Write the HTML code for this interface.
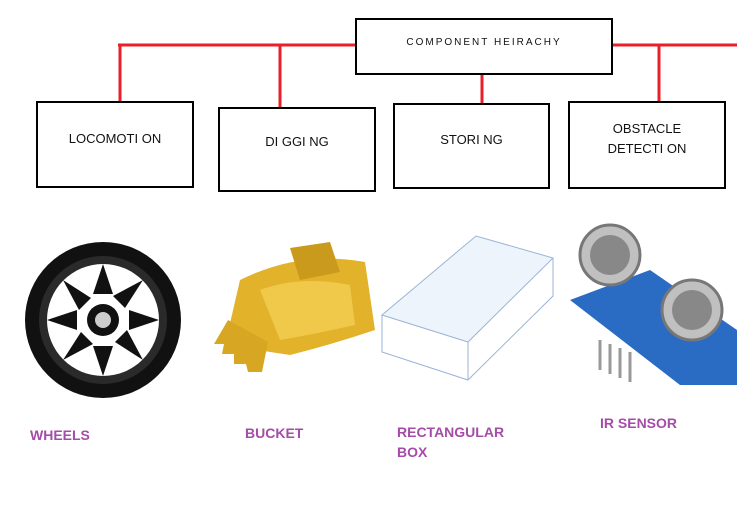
<!DOCTYPE html>
<html><head><meta charset="utf-8"><style>
body{margin:0;width:737px;height:512px;background:#fff;position:relative;overflow:hidden;font-family:"Liberation Sans",sans-serif}
.box{position:absolute;border:2px solid #000;box-sizing:border-box;background:#fff;display:flex;align-items:center;justify-content:center;text-align:center;font-size:13px;color:#111;line-height:20px;padding-bottom:12px}
.lbl{position:absolute;color:#a54ca8;font-weight:bold;font-size:14px;line-height:20px}
svg{position:absolute;left:0;top:0}
</style></head><body>
<svg width="737" height="512">
<g stroke="#e8202a" stroke-width="3" fill="none">
<path d="M118 45H356M612 45H737M120 45V101M280 45V108M482 74V103M659 45V101"/>
</g>
<g>
<circle cx="103" cy="320" r="78" fill="#111"/>
<circle cx="103" cy="320" r="64" fill="#2a2a2a"/>
<circle cx="103" cy="320" r="56" fill="#fff"/>
<g fill="#111">
<circle cx="103" cy="320" r="16"/>
<path d="M103 264l10 30h-20z"/><path d="M103 376l-10-30h20z"/>
<path d="M47 320l30-10v20z"/><path d="M159 320l-30 10v-20z"/>
<path d="M63 280l28 18-12 12z"/><path d="M143 360l-28-18 12-12z"/>
<path d="M143 280l-18 28-12-12z"/><path d="M63 360l18-28 12 12z"/>
</g>
<circle cx="103" cy="320" r="8" fill="#ccc"/>
</g>
<g>
<path d="M240 280 Q300 250 365 262 L375 330 Q330 345 290 355 L225 345 Z" fill="#e2b22a"/>
<path d="M290 248 l40 -6 l10 30 l-40 8z" fill="#c99a1c"/>
<path d="M228 320 l-14 24 h10 l-2 10 h12 l0 10 h12 l2 8 h14 l6 -30z" fill="#d7a623"/>
<path d="M260 290 Q300 275 350 285 L355 325 Q310 335 280 340z" fill="#f0c84a"/>
</g>
<g fill="none" stroke="#9ab4d8" stroke-width="1">
<path d="M382 315 L476 236 L553 258 L468 342 Z" fill="#eef4fb"/>
<path d="M382 315 V352 L468 380 V342"/><path d="M468 380 L553 296 V258"/>
</g>
<g>
<path d="M570 300 L650 270 L737 330 L737 385 L680 385 Z" fill="#2a6cc4"/>
<circle cx="610" cy="255" r="30" fill="#c0c0c0" stroke="#777" stroke-width="3"/>
<circle cx="610" cy="255" r="20" fill="#888"/>
<circle cx="692" cy="310" r="30" fill="#c0c0c0" stroke="#777" stroke-width="3"/>
<circle cx="692" cy="310" r="20" fill="#888"/>
<g stroke="#999" stroke-width="3"><path d="M600 340v30M610 344v30M620 348v30M630 352v30"/></g>
</g>
</svg>
<div class="box" style="left:355px;top:18px;width:258px;height:57px;font-size:10px;letter-spacing:2px;padding-bottom:8px">COMPONENT HEIRACHY</div>
<div class="box" style="left:36px;top:101px;width:158px;height:87px">LOCOMOTI ON</div>
<div class="box" style="left:218px;top:107px;width:158px;height:85px;padding-bottom:16px">DI GGI NG</div>
<div class="box" style="left:393px;top:103px;width:157px;height:86px">STORI NG</div>
<div class="box" style="left:568px;top:101px;width:158px;height:88px">OBSTACLE<br>DETECTI ON</div>
<div class="lbl" style="left:30px;top:425px">WHEELS</div>
<div class="lbl" style="left:245px;top:423px">BUCKET</div>
<div class="lbl" style="left:397px;top:422px">RECTANGULAR<br>BOX</div>
<div class="lbl" style="left:600px;top:413px">IR SENSOR</div>
</body></html>
